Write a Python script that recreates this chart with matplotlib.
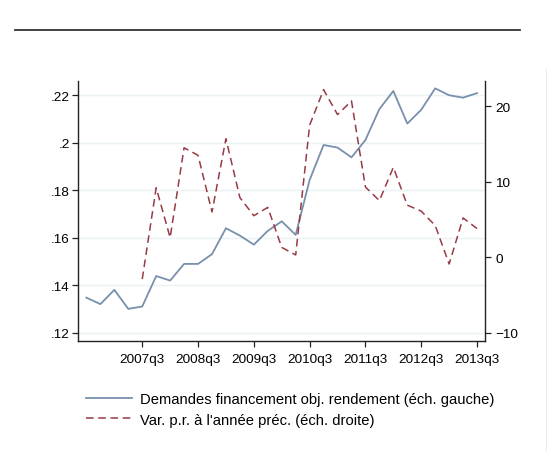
import numpy as np
import matplotlib.pyplot as plt
from matplotlib.lines import Line2D

plt.rcParams['font.family'] = ['Liberation Sans', 'DejaVu Sans']

# quarterly data, 2006q3 - 2013q3
quarters = ['2006q3', '2006q4', '2007q1', '2007q2', '2007q3', '2007q4',
            '2008q1', '2008q2', '2008q3', '2008q4', '2009q1', '2009q2',
            '2009q3', '2009q4', '2010q1', '2010q2', '2010q3', '2010q4',
            '2011q1', '2011q2', '2011q3', '2011q4', '2012q1', '2012q2',
            '2012q3', '2012q4', '2013q1', '2013q2', '2013q3']
demandes = [0.1348, 0.1321, 0.1381, 0.1301, 0.1311, 0.1439,
            0.1420, 0.1490, 0.1490, 0.1531, 0.1640, 0.1609,
            0.1571, 0.1629, 0.1669, 0.1612, 0.1843, 0.1990,
            0.1979, 0.1938, 0.2011, 0.2141, 0.2217, 0.2080,
            0.2138, 0.2228, 0.2199, 0.2189, 0.2208]
variation = [np.nan, np.nan, np.nan, np.nan, -2.9, 9.2,
             2.6, 14.5, 13.5, 6.0, 15.7, 7.9,
             5.5, 6.6, 1.3, 0.3, 17.5, 22.2,
             18.9, 20.7, 9.3, 7.5, 11.9, 6.9,
             6.1, 4.2, -0.9, 5.2, 3.8]
xtick_labels = ['2007q3', '2008q3', '2009q3', '2010q3', '2011q3', '2012q3', '2013q3']
left_ticks = [0.12, 0.14, 0.16, 0.18, 0.20, 0.22]
left_labels = ['.12', '.14', '.16', '.18', '.2', '.22']
right_ticks = [-10, 0, 10, 20]

label_left = 'Demandes financement obj. rendement (éch. gauche)'
label_right = "Var. p.r. à l'année préc. (éch. droite)"


def qnum(s):
    return int(s[:4]) + (int(s[5]) - 1) / 4


def main():
    x = np.array([qnum(q) for q in quarters])
    blue = '#7890ab'
    red = '#983a45'

    fig = plt.figure(figsize=(5.47, 4.52), dpi=100)
    ax = fig.add_axes([0.1417, 0.2434, 0.745, 0.5752])
    ax2 = ax.twinx()

    for q in left_ticks:
        ax.axhline(q, color='#eaf2f3', lw=1.0, zorder=0)
    l1, = ax.plot(x, demandes, color=blue, lw=1.3)
    l2, = ax2.plot(x, variation, color=red, lw=1.1, dashes=(5, 3))

    ax.set_xlim(2006.34, 2013.643)
    ax.set_ylim(0.1166, 0.2259)
    ax2.set_ylim(-11.1, 23.35)

    ax.set_xticks([qnum(t) for t in xtick_labels])
    ax.set_xticklabels(xtick_labels)
    ax.set_yticks(left_ticks)
    ax.set_yticklabels(left_labels)
    ax2.set_yticks(right_ticks)

    for a in (ax, ax2):
        a.spines['top'].set_visible(False)
        for sp in a.spines.values():
            sp.set_linewidth(1.0)
            sp.set_color('#222222')
        a.tick_params(length=4.5, width=0.9, labelsize=9.7, colors='#222222',
                      labelcolor='black', pad=2)
    ax.tick_params(axis='y', pad=1)
    ax.tick_params(axis='x', pad=4)
    ax2.tick_params(axis='y', pad=3)
    ax.spines['right'].set_visible(False)
    ax2.spines['left'].set_visible(False)
    ax2.spines['bottom'].set_visible(False)

    fig.legend([l1, l2], [label_left, label_right], loc='upper left',
               bbox_to_anchor=(86 / 547, 1 - 393 / 452), frameon=False,
               fontsize=10.6, handlelength=3.1, handletextpad=0.55,
               labelspacing=0.45, borderaxespad=0, borderpad=0)

    fig.add_artist(Line2D([15 / 547, 520 / 547], [1 - 31 / 452, 1 - 31 / 452],
                          color='#333333', lw=1.3))
    fig.add_artist(Line2D([546 / 547, 546 / 547], [0, 1 - 70 / 452],
                          color='#e6eef0', lw=0.8))

    fig.savefig('out.png', dpi=100)


if __name__ == "__main__":
    main()
